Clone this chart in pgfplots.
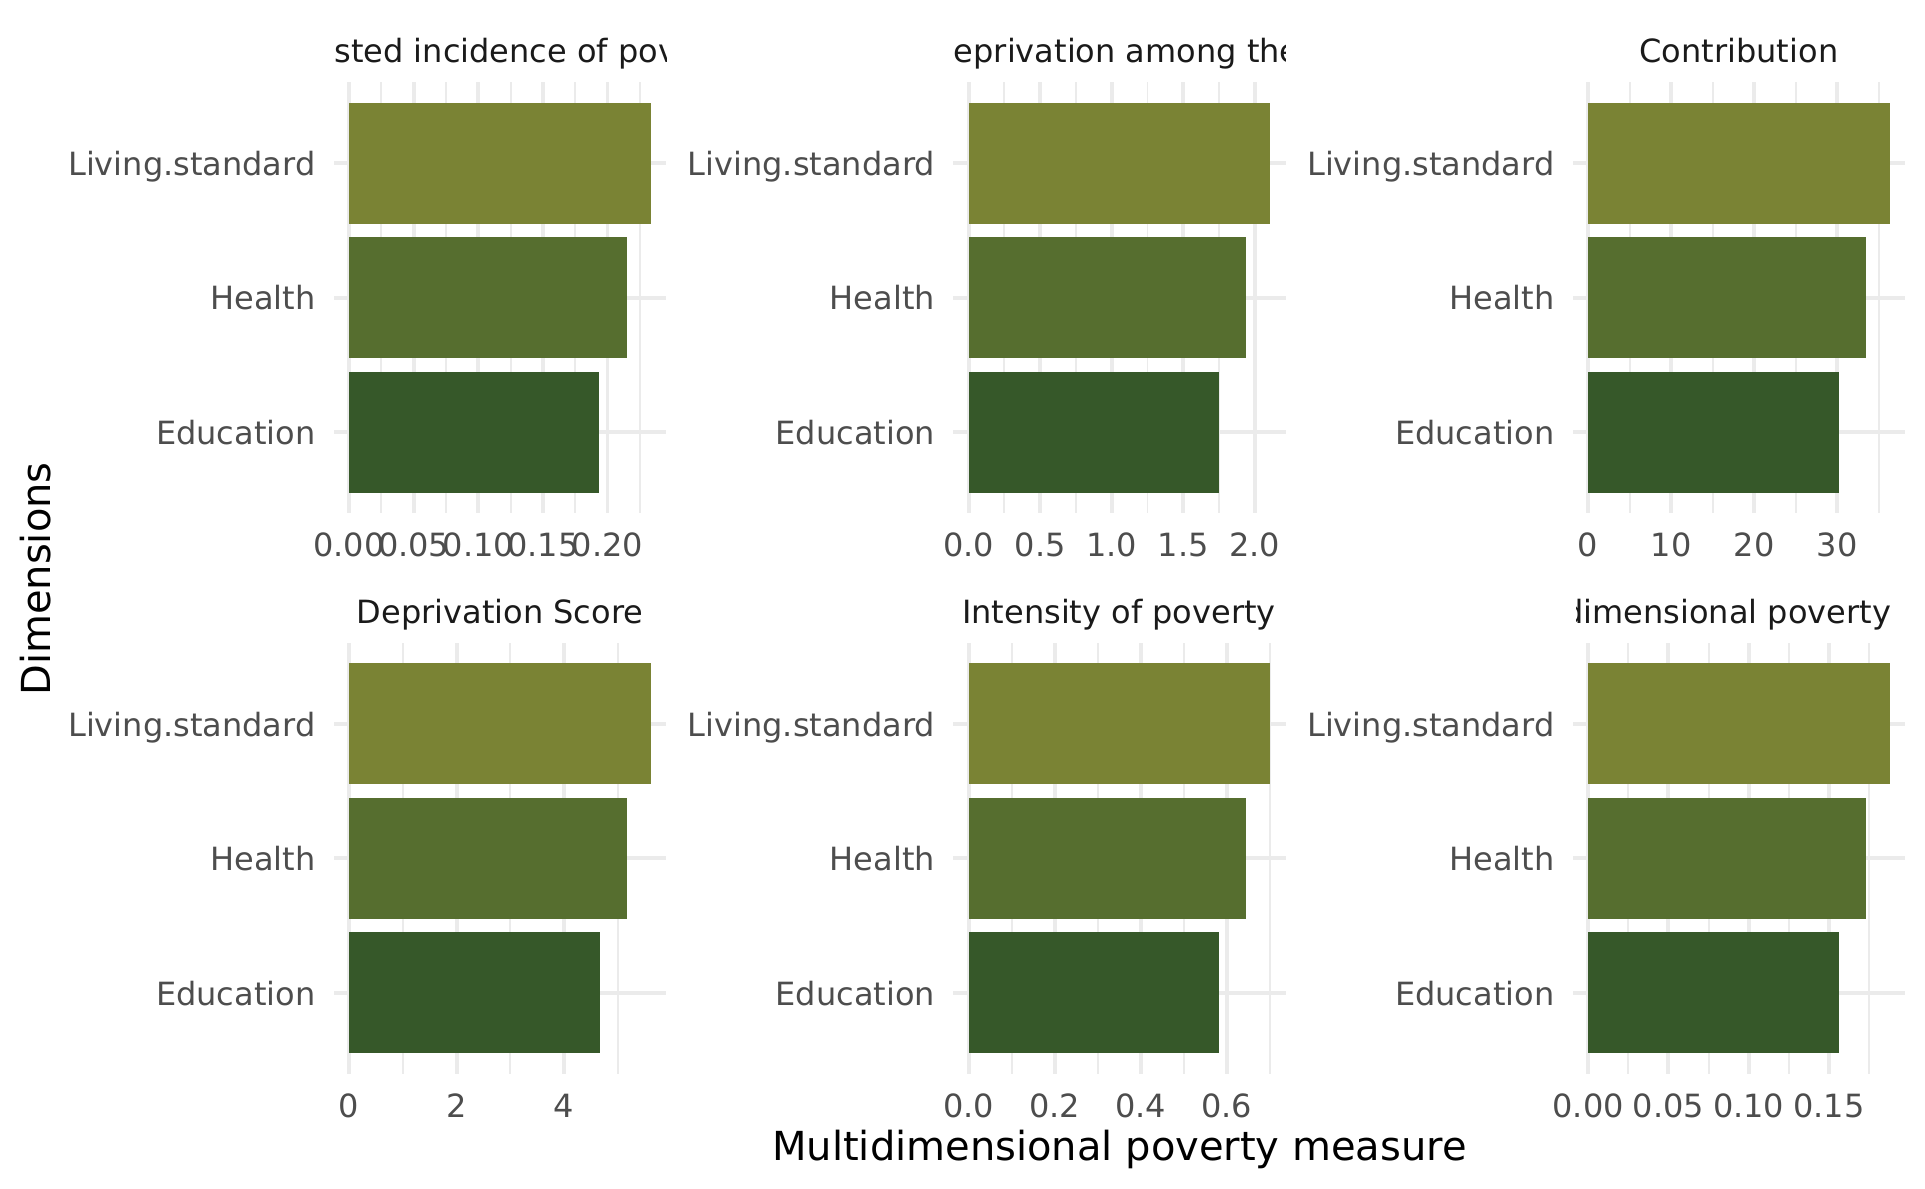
\documentclass[border=0pt]{standalone}
\usepackage{fontspec}
\setmainfont{DejaVu Sans}
\usepackage{pgfplots}
\pgfplotsset{compat=1.18}
\definecolor{living}{RGB}{122,131,52}
\definecolor{health}{RGB}{86,110,47}
\definecolor{edu}{RGB}{54,88,41}
\definecolor{gridc}{RGB}{235,235,235}
\definecolor{tickc}{RGB}{77,77,77}
\definecolor{titlec}{RGB}{26,26,26}
\pgfplotsset{
  panel/.style={
    scale only axis, width=91.3pt, height=118.36pt, anchor=south west,
    ymin=0.4, ymax=3.6, ytick={1,2,3},
    yticklabels={Education,Health,Living.standard},
    axis line style={draw=none},
    major tick length=0pt, minor tick length=0pt,
    xmajorgrids, xminorgrids, ymajorgrids,
    major grid style={color=gridc, line width=1.07pt},
    minor grid style={color=gridc, line width=0.53pt},
    tick label style={font=\fontsize{8.8}{10}\selectfont, text=tickc, inner sep=0pt},
    xticklabel style={anchor=north, yshift=-5.35pt},
    yticklabel style={anchor=east, text depth=0pt, xshift=-4.9pt},
  },
  bar/.style={xbar, bar width=0.9, bar shift=0pt, draw=none, fill=#1},
}
\newcommand{\threebars}[3]{%
  \addplot[bar=edu] coordinates {(#1,1)};
  \addplot[bar=health] coordinates {(#2,2)};
  \addplot[bar=living] coordinates {(#3,3)};
}
\begin{document}
\begin{tikzpicture}
\path[use as bounding box] (0,0) rectangle (529.375pt,326.975pt);
% Top row
\begin{axis}[panel, at={(91.85pt,185.93pt)}, xmin=-0.01168, xmax=0.24528,
  xtick={0,0.05,0.1,0.15,0.2}, xticklabels={0.00,0.05,0.10,0.15,0.20},
  minor xtick={0.025,0.075,0.125,0.175,0.225}]
\threebars{0.1938}{0.2149}{0.2336}
\end{axis}
\begin{axis}[panel, at={(262.21pt,185.93pt)}, xmin=-0.10545, xmax=2.21445,
  xtick={0,0.5,1,1.5,2}, xticklabels={0.0,0.5,1.0,1.5,2.0},
  minor xtick={0.25,0.75,1.25,1.75}]
\threebars{1.751}{1.941}{2.109}
\end{axis}
\begin{axis}[panel, at={(432.575pt,185.93pt)}, xmin=-1.8165, xmax=38.1465,
  xtick={0,10,20,30}, xticklabels={0,10,20,30},
  minor xtick={5,15,25,35}]
\threebars{30.2}{33.47}{36.33}
\end{axis}
% Bottom row
\begin{axis}[panel, at={(91.85pt,31.735pt)}, xmin=-0.2807, xmax=5.8947,
  xtick={0,2,4}, xticklabels={0,2,4},
  minor xtick={1,3,5}]
\threebars{4.658}{5.165}{5.614}
\end{axis}
\begin{axis}[panel, at={(262.21pt,31.735pt)}, xmin=-0.035085, xmax=0.736785,
  xtick={0,0.2,0.4,0.6}, xticklabels={0.0,0.2,0.4,0.6},
  minor xtick={0.1,0.3,0.5,0.7}]
\threebars{0.5825}{0.6457}{0.7017}
\end{axis}
\begin{axis}[panel, at={(432.575pt,31.735pt)}, xmin=-0.009395, xmax=0.197295,
  xtick={0,0.05,0.1,0.15}, xticklabels={0.00,0.05,0.10,0.15},
  minor xtick={0.025,0.075,0.125,0.175}]
\threebars{0.1562}{0.1731}{0.1879}
\end{axis}
% Panel titles (clipped to the strip width)
\tikzset{strip/.style={inner sep=0pt, text=titlec, font=\fontsize{8.8}{10}\selectfont}}
\begin{scope}
\clip (91.85pt,300pt) rectangle (183.15pt,326.975pt);
\node[strip, anchor=base west] at (72.33pt,309.65pt) {Adjusted incidence of poverty};
\end{scope}
\begin{scope}
\clip (262.21pt,300pt) rectangle (353.51pt,326.975pt);
\node[strip, anchor=base west] at (255.34pt,309.65pt) {Deprivation among the poor};
\end{scope}
\begin{scope}
\clip (432.575pt,300pt) rectangle (523.875pt,326.975pt);
\node[strip, anchor=base] at (478.2pt,309.65pt) {Contribution};
\end{scope}
\begin{scope}
\clip (91.85pt,146pt) rectangle (183.15pt,170pt);
\node[strip, anchor=base] at (137.5pt,155.5pt) {Deprivation Score};
\end{scope}
\begin{scope}
\clip (262.21pt,146pt) rectangle (353.51pt,170pt);
\node[strip, anchor=base] at (307.7pt,155.5pt) {Intensity of poverty};
\end{scope}
\begin{scope}
\clip (433.5pt,146pt) rectangle (521.6pt,170pt);
\node[strip, anchor=base west] at (408.2pt,155.5pt) {Multidimensional poverty index};
\end{scope}
% Axis titles
\node[anchor=base, inner sep=0pt, font=\fontsize{11}{13}\selectfont] at (307.86pt,7.7pt) {Multidimensional poverty measure};
\node[rotate=90, inner sep=0pt, font=\fontsize{11}{13}\selectfont] at (9.82pt,167.75pt) {Dimensions};
\end{tikzpicture}
\end{document}
